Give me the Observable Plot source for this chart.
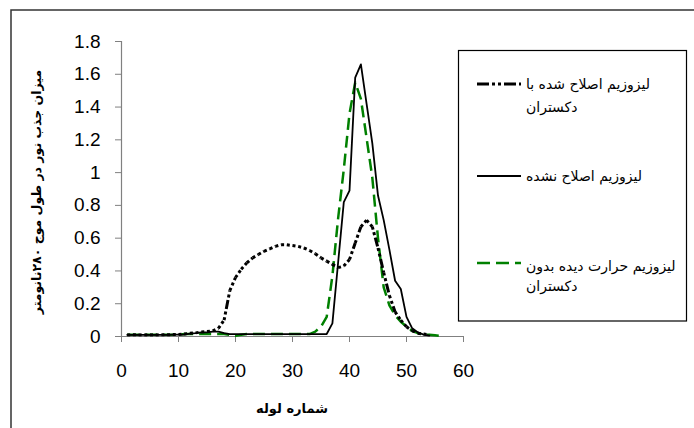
<!DOCTYPE html>
<html>
<head>
<meta charset="utf-8">
<script src="https://cdn.jsdelivr.net/npm/d3@7"></script>
<script src="https://cdn.jsdelivr.net/npm/@observablehq/plot@0.6"></script>
<style>
  html, body { margin: 0; padding: 0; background: white; }
  #chart { width: 694px; height: 428px; }
</style>
</head>
<body>
<div id="chart"></div>
<script>
// ---- data ----
const xDextran = [1,2,3,4,5,6,7,8,9,10,11,12,13,14,15,16,17,18,19,20,21,22,23,24,25,26,27,28,29,30,31,32,33,34,35,36,37,38,39,40,41,42,43,44,45,46,47,48,49,50,51,52,53,54];
const yDextran = [0.01,0.01,0.01,0.01,0.01,0.01,0.01,0.01,0.012,0.012,0.015,0.02,0.022,0.028,0.03,0.035,0.05,0.10,0.28,0.36,0.41,0.45,0.48,0.50,0.52,0.535,0.55,0.56,0.56,0.555,0.55,0.54,0.525,0.505,0.48,0.46,0.44,0.42,0.43,0.47,0.57,0.67,0.71,0.67,0.54,0.39,0.25,0.15,0.10,0.06,0.035,0.02,0.015,0.01];

const xUnmodified = [1,2,3,4,5,6,7,8,9,10,11,12,13,14,15,16,17,18,19,20,21,22,23,24,25,26,27,28,29,30,31,32,33,34,35,36,37,38,39,40,41,42,43,44,45,46,47,48,49,50,51,52,53,54];
const yUnmodified = [0.01,0.01,0.01,0.01,0.01,0.01,0.01,0.01,0.012,0.012,0.012,0.018,0.02,0.025,0.025,0.03,0.03,0.02,0.015,0.015,0.015,0.015,0.015,0.015,0.015,0.015,0.015,0.015,0.015,0.015,0.015,0.015,0.015,0.015,0.015,0.015,0.08,0.45,0.82,0.89,1.58,1.66,1.42,1.18,0.86,0.71,0.53,0.34,0.29,0.12,0.05,0.025,0.012,0.005];

const xHeated = [1,2,3,4,5,6,7,8,9,10,11,12,13,14,15,16,17,18,19,20,21,22,23,24,25,26,27,28,29,30,31,32,33,34,35,36,37,38,39,40,41,42,43,44,45,46,47,48,49,50,51,52,53,54,55,56];
const yHeated = [0.01,0.01,0.01,0.01,0.01,0.01,0.01,0.01,0.01,0.01,0.015,0.015,0.015,0.015,0.015,0.015,0.015,0.015,0.01,0.005,0.01,0.015,0.015,0.015,0.015,0.015,0.015,0.015,0.015,0.015,0.015,0.015,0.015,0.03,0.06,0.12,0.37,0.72,1.02,1.36,1.55,1.45,1.21,0.97,0.60,0.30,0.19,0.13,0.09,0.06,0.035,0.02,0.012,0.01,0.007,0.004];

const seriesNames = [
  ["لیزوزیم اصلاح شده با", "دکستران"],
  ["لیزوزیم اصلاح نشده"],
  ["لیزوزیم حرارت دیده بدون", "دکستران"]
];
const xTicks = [0,10,20,30,40,50,60];
const yTicks = [0,0.2,0.4,0.6,0.8,1,1.2,1.4,1.6,1.8];
const xTitle = "شماره لوله";
const yTitle = "میزان جذب نور در طول موج ۲۸۰نانومتر";

// ---- build tables ----
const heated = xHeated.map((x, i) => ({x, y: yHeated[i]}));
const unmodified = xUnmodified.map((x, i) => ({x, y: yUnmodified[i]}));
const dextranSegs = xDextran.slice(1).map((x, i) => ({x1: xDextran[i], y1: yDextran[i], x2: x, y2: yDextran[i + 1]}));

const GREEN = "#008000";
const AXIS = "#808080";
const dotDash = "3,2.7,3,2.7,9,2.7";

const plot = Plot.plot({
  width: 694,
  height: 428,
  marginLeft: 121,
  marginRight: 231,
  marginTop: 41,
  marginBottom: 92,
  x: {domain: [0, 60]},
  y: {domain: [0, 1.8]},
  style: {fontFamily: "'Liberation Sans', Arial, sans-serif", background: "white", overflow: "visible", color: "black"},
  marks: [
    Plot.ruleY([0], {stroke: AXIS, strokeWidth: 1.2}),
    Plot.ruleX([0], {stroke: AXIS, strokeWidth: 1.2}),
    Plot.axisY({ticks: yTicks, tickSize: 6, tickPadding: 15, fontSize: 19, stroke: AXIS, fill: "black",
      tickFormat: d => String(Math.round(d * 10) / 10), label: null}),
    Plot.axisX({ticks: xTicks, tickSize: 6, tickPadding: 21, fontSize: 19, stroke: AXIS, fill: "black",
      tickFormat: d => String(d), label: null}),
    Plot.line(heated, {x: "x", y: "y", stroke: GREEN, strokeWidth: 2.5, strokeDasharray: "12,6", strokeLinecap: "butt"}),
    Plot.line(unmodified, {x: "x", y: "y", stroke: "black", strokeWidth: 1.8}),
    Plot.link(dextranSegs, {x1: "x1", y1: "y1", x2: "x2", y2: "y2", stroke: "black", strokeWidth: 3,
      strokeDasharray: dotDash, strokeLinecap: "butt"})
  ]
});

document.getElementById("chart").appendChild(plot);

// ---- decorations: outer frame, titles, legend ----
const svg = d3.select(plot);
const faFont = "'DejaVu Sans', Tahoma, sans-serif";

svg.append("path").attr("d", "M11,428 L11,10 L694,10").attr("fill", "none").attr("stroke", "#333").attr("stroke-width", 1.5);

svg.append("text").text(xTitle)
  .attr("x", 292).attr("y", 413).attr("text-anchor", "middle")
  .attr("font-family", faFont).attr("font-weight", "bold").attr("font-size", 13).attr("fill", "black");

svg.append("text").text(yTitle)
  .attr("transform", "translate(41,192) rotate(-90)").attr("text-anchor", "middle")
  .attr("font-family", faFont).attr("font-weight", "bold").attr("font-size", 12.5).attr("fill", "black");

const lg = svg.append("g");
lg.append("rect").attr("x", 458.5).attr("y", 50.5).attr("width", 228).attr("height", 270.5)
  .attr("fill", "white").attr("stroke", "black").attr("stroke-width", 1.2);

const legendStyles = [
  {stroke: "black", width: 3, dash: "12,3,3,3,3,3"},
  {stroke: "black", width: 1.8, dash: null},
  {stroke: GREEN, width: 2.5, dash: "13,6"}
];
const markerY = [84, 176, 263];
const lineY = [[89, 112], [181], [271, 291]];
seriesNames.forEach((lines, i) => {
  const s = legendStyles[i];
  const l = lg.append("line").attr("x1", 477).attr("x2", 521).attr("y1", markerY[i]).attr("y2", markerY[i])
    .attr("stroke", s.stroke).attr("stroke-width", s.width);
  if (s.dash) l.attr("stroke-dasharray", s.dash);
  lines.forEach((t, j) => {
    lg.append("text").text(t).attr("x", 526).attr("y", lineY[i][j])
      .attr("text-anchor", "start").attr("font-family", faFont).attr("font-size", 14).attr("fill", "black");
  });
});
</script>
</body>
</html>
